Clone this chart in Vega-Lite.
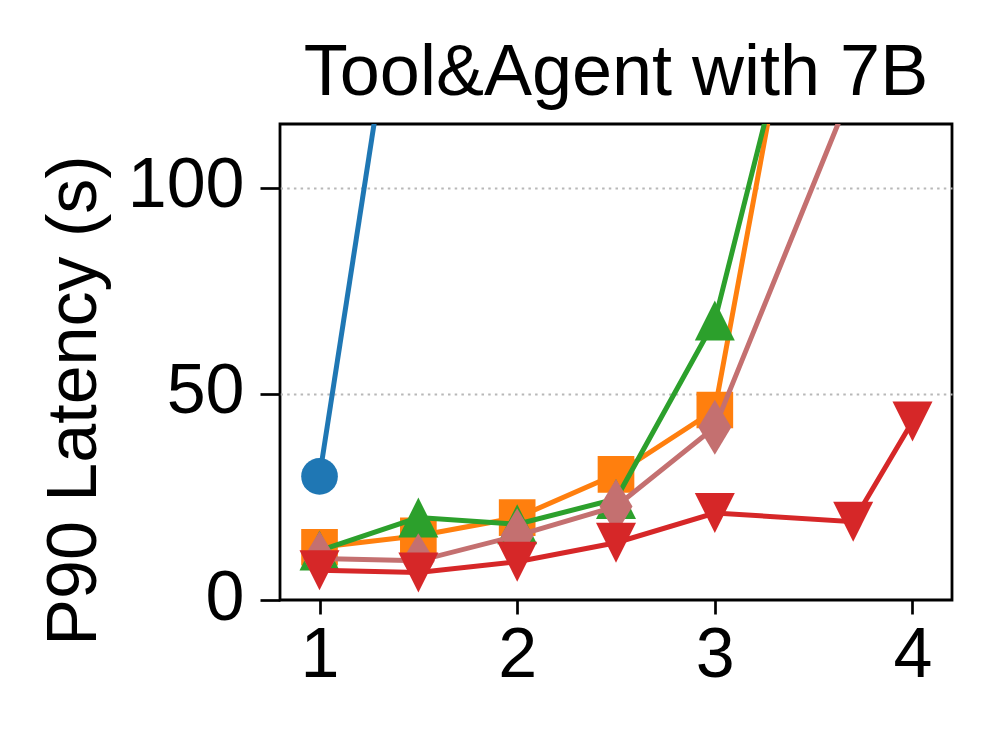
{
  "$schema": "https://vega.github.io/schema/vega-lite/v6.json",
  "width": 672,
  "height": 476,
  "autosize": {"type": "none"},
  "padding": {"left": 280, "top": 124, "right": 46, "bottom": 135},
  "background": "white",
  "config": {
    "font": "Liberation Sans",
    "view": {"stroke": "black", "strokeWidth": 2.8},
    "axis": {"labelFont": "Liberation Sans", "titleFont": "Liberation Sans", "labelColor": "black", "titleColor": "black", "tickColor": "black", "domain": false, "labelFlush": false, "labelOverlap": false}
  },
  "title": {"text": "Tool&Agent with 7B", "fontSize": 72, "fontWeight": "normal", "font": "Liberation Sans", "color": "black", "anchor": "middle", "baseline": "alphabetic", "offset": -43},
  "data": {"values": [
    {"s": "s1", "x": 1, "y": 30.0},
    {"s": "s1", "x": 1.5, "y": 185},
    {"s": "s2", "x": 1, "y": 12.8},
    {"s": "s2", "x": 1.5, "y": 15.6},
    {"s": "s2", "x": 2, "y": 20.0},
    {"s": "s2", "x": 2.5, "y": 30.5},
    {"s": "s2", "x": 3, "y": 46.1},
    {"s": "s2", "x": 3.5, "y": 176},
    {"s": "s3", "x": 1, "y": 12.0},
    {"s": "s3", "x": 1.5, "y": 20.0},
    {"s": "s3", "x": 2, "y": 18.4},
    {"s": "s3", "x": 2.5, "y": 24.5},
    {"s": "s3", "x": 3, "y": 67.8},
    {"s": "s3", "x": 3.5, "y": 163},
    {"s": "s4", "x": 1, "y": 10.1},
    {"s": "s4", "x": 1.5, "y": 9.5},
    {"s": "s4", "x": 2, "y": 15.6},
    {"s": "s4", "x": 2.5, "y": 22.7},
    {"s": "s4", "x": 3, "y": 41.9},
    {"s": "s4", "x": 4, "y": 160},
    {"s": "s5", "x": 1, "y": 7.2},
    {"s": "s5", "x": 1.5, "y": 6.7},
    {"s": "s5", "x": 2, "y": 9.3},
    {"s": "s5", "x": 2.5, "y": 13.9},
    {"s": "s5", "x": 3, "y": 21.1},
    {"s": "s5", "x": 3.7, "y": 19.0},
    {"s": "s5", "x": 4, "y": 43.3}
  ]},
  "encoding": {
    "x": {"field": "x", "type": "quantitative", "scale": {"domain": [0.8, 4.2], "nice": false, "zero": false},
      "axis": {"title": null, "values": [1, 2, 3, 4], "format": "d", "labelFontSize": 70, "tickSize": 14, "tickWidth": 2.7, "grid": false, "labelPadding": 62, "labelBaseline": "alphabetic"}},
    "y": {"field": "y", "type": "quantitative", "scale": {"domain": [0, 115.5], "nice": false, "zero": false},
      "axis": {"title": "P90 Latency (s)", "titleFontSize": 70, "titleFontWeight": "normal", "titleAngle": -90, "titleAlign": "center", "titleBaseline": "alphabetic", "titleX": -185, "titleY": 276,
        "values": [0, 50, 100], "labelFontSize": 70, "tickSize": 20, "tickWidth": 2.7, "labelPadding": 16, "labelBaseline": "alphabetic", "labelOffset": 19,
        "grid": true, "gridColor": "#b8b8b8", "gridWidth": 2, "gridDash": [2.5, 4.2],
        "gridOpacity": {"condition": {"test": "datum.value === 0", "value": 0}, "value": 1}}},
    "color": {"field": "s", "type": "nominal", "legend": null,
      "scale": {"domain": ["s1", "s2", "s3", "s4", "s5"], "range": ["#1f77b4", "#ff7f0e", "#2ca02c", "#c47070", "#d62728"]}},
    "shape": {"field": "s", "type": "nominal", "legend": null, "scale": {"domain": ["s1", "s2", "s3", "s4", "s5"], "range": ["circle", "square", "M0,-1L1,1L-1,1Z", "M0,-1L0.6,0L0,1L-0.6,0Z", "M0,1L1,-1L-1,-1Z"]}}
  },
  "layer": [
    {"transform": [{"filter": "datum.s === 's1'"}], "mark": {"type": "line", "strokeWidth": 5, "clip": true}},
    {"transform": [{"filter": "datum.s === 's1'"}], "mark": {"type": "point", "filled": true, "opacity": 1, "clip": true, "size": 1344}},
    {"transform": [{"filter": "datum.s === 's2'"}], "mark": {"type": "line", "strokeWidth": 5, "clip": true}},
    {"transform": [{"filter": "datum.s === 's2'"}], "mark": {"type": "point", "filled": true, "opacity": 1, "clip": true, "size": 1344}},
    {"transform": [{"filter": "datum.s === 's3'"}], "mark": {"type": "line", "strokeWidth": 5, "clip": true}},
    {"transform": [{"filter": "datum.s === 's3'"}], "mark": {"type": "point", "filled": true, "opacity": 1, "clip": true, "size": 1600}},
    {"transform": [{"filter": "datum.s === 's4'"}], "mark": {"type": "line", "strokeWidth": 5, "clip": true}},
    {"transform": [{"filter": "datum.s === 's4'"}], "mark": {"type": "point", "filled": true, "opacity": 1, "clip": true, "size": 3025}},
    {"transform": [{"filter": "datum.s === 's5'"}], "mark": {"type": "line", "strokeWidth": 5, "clip": true}},
    {"transform": [{"filter": "datum.s === 's5'"}], "mark": {"type": "point", "filled": true, "opacity": 1, "clip": true, "size": 1600}}
  ]
}
